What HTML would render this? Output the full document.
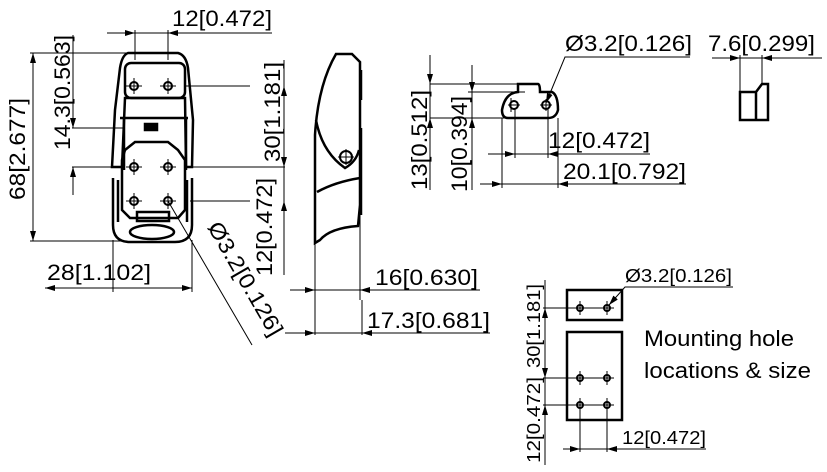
<!DOCTYPE html>
<html><head><meta charset="utf-8"><style>
html,body{margin:0;padding:0;background:#fff;}
svg{display:block;}
text{font-family:"Liberation Sans",sans-serif;fill:#000;}
</style></head><body>
<svg width="827" height="472" viewBox="0 0 827 472" xmlns="http://www.w3.org/2000/svg">
<defs>
<marker id="a" viewBox="0 0 10 6" refX="10" refY="3" markerWidth="10" markerHeight="6" orient="auto-start-reverse" markerUnits="userSpaceOnUse"><path d="M0,0L10,3L0,6z" fill="#000"/></marker>
</defs>
<g stroke="#000" fill="none" stroke-width="1">
<!-- ===== front view ===== -->
<g stroke-width="2.5">
<path d="M128,53 H178 Q186,55 188,68 L193,120 L192,167 H186 L185,98 H125 L122,167 H112 L115,110 L120,68 Q122,55 128,53Z"/>
<rect x="125" y="63" width="60" height="35" rx="6"/>
<path d="M120,118 H188 M124,118 V170 M186,118 V170"/>
<path d="M125,150 L135,142 H168 L178,150 L185,160 V210 L178,218 H130 L122,210 V160Z"/>
<path d="M113,178 V225 Q113,242 130,242 H175 Q192,242 192,225 V178"/>
<path d="M118,180 V222 M187,180 V222"/>
<rect x="137" y="212" width="32" height="9"/>
<ellipse cx="152" cy="232" rx="22" ry="7"/>
<rect x="145" y="124" width="12" height="6" fill="#000"/>
</g>
<g stroke-width="2">
<circle cx="134" cy="86" r="4"/><circle cx="168" cy="86" r="4"/>
<circle cx="134" cy="167" r="4"/><circle cx="168" cy="167" r="4"/>
<circle cx="134" cy="201" r="4"/><circle cx="168" cy="201" r="4"/>
</g>
<path d="M126,86h16M160,86h16M134,78v16M168,78v16M126,167h16M160,167h16M134,159v16M168,159v16M126,201h16M160,201h16M134,193v16M168,193v16"/>
<!-- dims front -->
<path d="M135,30 V60 M168,30 V60"/>
<path d="M107,33 H135" marker-end="url(#a)"/><path d="M190,33 H168" marker-end="url(#a)"/><path d="M135,33H168M190,33H272"/>
<path d="M72,53H130 M72,128H125 M72,167H115"/>
<path d="M73,35 V128" marker-end="url(#a)"/><path d="M73,195 V167" marker-end="url(#a)"/>
<path d="M33,53V241" marker-start="url(#a)" marker-end="url(#a)"/>
<path d="M30,53H115 M30,241H125"/>
<path d="M185,86H250 M190,167H285 M190,201H250"/>
<path d="M284,60V86" /><path d="M284,86V167" marker-start="url(#a)" marker-end="url(#a)"/><path d="M284,167V201"/><path d="M284,275V201" marker-end="url(#a)"/>
<path d="M113,240V292 M192,240V292"/>
<path d="M45,288H192" marker-start="url(#a)" marker-end="url(#a)"/>
<path d="M168,201L252,345"/>
<!-- ===== side view ===== -->
<path stroke-width="2.5" d="M336,54 H352 L360,62 V205 L358,226 Q330,228 320,240 L315,243 V135 Q318,85 336,54Z"/>
<path stroke-width="2.5" d="M317,192 Q335,182 360,178 M316,120 Q322,152 345,168 Q356,162 359,150"/>
<path stroke-width="2.5" d="M361,70 V100 M361,128 V215"/>
<circle cx="346" cy="157" r="6" stroke-width="2"/><path d="M338,157h16M346,149v16"/>
<path d="M315,243V335 M360,205V300 M362,300V335"/>
<path d="M290,290H315" marker-end="url(#a)"/><path d="M385,290H360" marker-end="url(#a)"/><path d="M315,290H480"/>
<path d="M285,333H315" marker-end="url(#a)"/><path d="M385,333H362" marker-end="url(#a)"/><path d="M315,333H490"/>
<!-- ===== catch view ===== -->
<path stroke-width="2.5" d="M520,84 H538 Q540,84 540,92 L552,92 Q558,95 558,110 Q556,118 548,118 H508 Q502,118 502,110 Q505,93 518,92 V84Z"/>
<circle cx="514" cy="105" r="4" stroke-width="2"/><circle cx="546" cy="105" r="4" stroke-width="2"/>
<path d="M508,105h12M511,98v14M540,105h12M546,99v12"/>
<path d="M430,84H520 M468,92H525 M430,118H505"/>
<path d="M430,55V84" marker-end="url(#a)"/><path d="M430,190V118" marker-end="url(#a)"/><path d="M430,84V118"/>
<path d="M472,65V92" marker-end="url(#a)"/><path d="M472,190V118" marker-end="url(#a)"/><path d="M472,92V118"/>
<path d="M515,108V158 M548,108V158 M502,118V188 M558,118V188"/>
<path d="M488,154H515" marker-end="url(#a)"/><path d="M568,154H548" marker-end="url(#a)"/><path d="M515,154H650"/>
<path d="M480,184H502" marker-end="url(#a)"/><path d="M578,184H558" marker-end="url(#a)"/><path d="M502,184H686"/>
<path d="M690,57H565L546,103" marker-end="url(#a)"/>
<!-- small view -->
<path stroke-width="2.5" d="M740,92 H756 L762,84 H768 V120 H740Z M756,92 V120"/>
<path d="M740,55V92 M762,55V84"/>
<path d="M712,58H740" marker-end="url(#a)"/><path d="M790,58H762" marker-end="url(#a)"/><path d="M740,58H822"/>
<!-- ===== mounting ===== -->
<rect x="567" y="290" width="55" height="30" stroke-width="2.5"/>
<rect x="567" y="332" width="55" height="88" stroke-width="2.5"/>
<g stroke-width="2">
<circle cx="580" cy="308" r="3"/><circle cx="607" cy="308" r="3"/>
<circle cx="580" cy="378" r="3"/><circle cx="607" cy="378" r="3"/>
<circle cx="580" cy="405" r="3"/><circle cx="607" cy="405" r="3"/>
</g>
<path d="M573,308h14M600,308h14M580,301v14M607,301v14M573,378h14M600,378h14M580,371v14M607,371v14M573,405h14M600,405h14M580,398v14M607,398v14"/>
<path d="M543,308H600 M543,378H600 M543,405H600"/>
<path d="M545,280V308"/><path d="M545,308V378" marker-start="url(#a)" marker-end="url(#a)"/><path d="M545,465V405" marker-end="url(#a)"/><path d="M545,378V405"/>
<path d="M580,405V452 M607,405V452"/>
<path d="M563,449H580" marker-end="url(#a)"/><path d="M625,449H607" marker-end="url(#a)"/><path d="M580,449H706"/>
<path d="M733,287H625L609,305" marker-end="url(#a)"/>
</g>
<!-- text -->
<g font-size="22">
<text x="172" y="26" textLength="100" lengthAdjust="spacingAndGlyphs">12[0.472]</text>
<text transform="translate(70,150) rotate(-90)" textLength="115" lengthAdjust="spacingAndGlyphs">14.3[0.563]</text>
<text transform="translate(25,200) rotate(-90)" textLength="102" lengthAdjust="spacingAndGlyphs">68[2.677]</text>
<text transform="translate(280,162) rotate(-90)" textLength="100" lengthAdjust="spacingAndGlyphs">30[1.181]</text>
<text transform="translate(272,276) rotate(-90)" textLength="98" lengthAdjust="spacingAndGlyphs">12[0.472]</text>
<text x="47" y="280" textLength="104" lengthAdjust="spacingAndGlyphs">28[1.102]</text>
<text transform="translate(207,227) rotate(60)" textLength="128" lengthAdjust="spacingAndGlyphs">Ø3.2[0.126]</text>
<text x="375" y="285" textLength="103" lengthAdjust="spacingAndGlyphs">16[0.630]</text>
<text x="367" y="328" textLength="123" lengthAdjust="spacingAndGlyphs">17.3[0.681]</text>
<text transform="translate(427,190) rotate(-90)" textLength="100" lengthAdjust="spacingAndGlyphs">13[0.512]</text>
<text transform="translate(467,192) rotate(-90)" textLength="96" lengthAdjust="spacingAndGlyphs">10[0.394]</text>
<text x="548" y="148" textLength="102" lengthAdjust="spacingAndGlyphs">12[0.472]</text>
<text x="563" y="179" textLength="123" lengthAdjust="spacingAndGlyphs">20.1[0.792]</text>
<text x="565" y="51" textLength="127" lengthAdjust="spacingAndGlyphs">Ø3.2[0.126]</text>
<text x="708" y="51" textLength="107" lengthAdjust="spacingAndGlyphs">7.6[0.299]</text>
<text x="644" y="346" textLength="150" lengthAdjust="spacingAndGlyphs">Mounting hole</text>
<text x="644" y="378" textLength="167" lengthAdjust="spacingAndGlyphs">locations &amp; size</text>
</g>
<g font-size="18">
<text x="625" y="282" textLength="107" lengthAdjust="spacingAndGlyphs">Ø3.2[0.126]</text>
<text transform="translate(540,368) rotate(-90)" textLength="84" lengthAdjust="spacingAndGlyphs">30[1.181]</text>
<text transform="translate(540,463) rotate(-90)" textLength="86" lengthAdjust="spacingAndGlyphs">12[0.472]</text>
<text x="622" y="444" textLength="84" lengthAdjust="spacingAndGlyphs">12[0.472]</text>
</g>
</svg>
</body></html>
